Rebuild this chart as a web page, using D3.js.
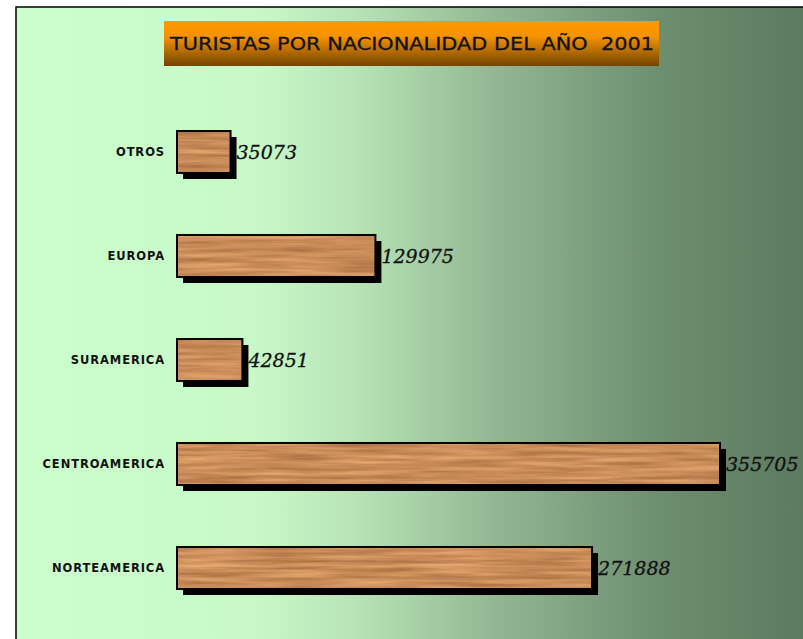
<!DOCTYPE html>
<html>
<head>
<meta charset="utf-8">
<script src="https://cdn.jsdelivr.net/npm/d3@7"></script>
<style>
  body { margin: 0; background: #ffffff; }
  svg { display: block; }
</style>
</head>
<body>
<div id="chart"></div>
<script>
// data
var categories = ["OTROS", "EUROPA", "SURAMERICA", "CENTROAMERICA", "NORTEAMERICA"];
var values = [35073, 129975, 42851, 355705, 271888];
var title = "TURISTAS POR NACIONALIDAD DEL AÑO  2001";

const width = 803;
const height = 639;

const svg = d3.select("#chart").append("svg")
    .attr("width", width)
    .attr("height", height);

const defs = svg.append("defs");

// background gradient, light green -> dark green
let bg = defs.append("linearGradient").attr("id", "bg_grad")
    .attr("x1", 0).attr("x2", 1).attr("y1", 0).attr("y2", 0);
[[0, "#ccffcc"], [0.3, "#c8f8c8"], [0.42, "#b8e4b8"], [0.6, "#92b692"], [0.8, "#6e8e70"], [1, "#5b785e"]]
    .forEach(d => bg.append("stop").attr("offset", d[0]).attr("stop-color", d[1]));

// title box gradient, orange -> brown
let tg = defs.append("linearGradient").attr("id", "title_grad")
    .attr("x1", 0).attr("x2", 0).attr("y1", 0).attr("y2", 1);
[[0, "#ff9900"], [0.35, "#f59200"], [1, "#744400"]]
    .forEach(d => tg.append("stop").attr("offset", d[0]).attr("stop-color", d[1]));

// wood grain
let wood = defs.append("filter").attr("id", "wood")
    .attr("x", 0).attr("y", 0).attr("width", 1).attr("height", 1)
    .attr("color-interpolation-filters", "sRGB");
wood.append("feTurbulence")
    .attr("type", "fractalNoise")
    .attr("baseFrequency", "0.012 0.25")
    .attr("numOctaves", 3)
    .attr("seed", 4)
    .attr("result", "noise");
wood.append("feColorMatrix")
    .attr("in", "noise")
    .attr("type", "matrix")
    .attr("values", "0.32 0 0 0 0.63  0.32 0 0 0 0.39  0.26 0 0 0 0.22  0 0 0 0 1")
    .attr("result", "col");
wood.append("feComposite")
    .attr("in", "col").attr("in2", "SourceGraphic").attr("operator", "in");

// plot frame
svg.append("rect")
    .attr("x", 16).attr("y", 7)
    .attr("width", width).attr("height", height)
    .attr("fill", "url(#bg_grad)")
    .attr("stroke", "#000")
    .attr("stroke-width", 1.5);

// title
svg.append("rect")
    .attr("x", 164).attr("y", 21)
    .attr("width", 495).attr("height", 45)
    .attr("fill", "url(#title_grad)");
svg.append("text")
    .attr("x", 170).attr("y", 50)
    .attr("font-family", "'DejaVu Sans'")
    .attr("font-size", 18)
    .attr("fill", "#111")
    .attr("stroke", "#111")
    .attr("stroke-width", 0.3)
    .attr("textLength", 484)
    .attr("lengthAdjust", "spacingAndGlyphs")
    .attr("xml:space", "preserve")
    .text(title);

// scales
const x0 = 177;
let scale_x = d3.scaleLinear().domain([0, 355705]).range([0, 543]);
let scale_y = d3.scaleBand().domain(categories).range([100, 620])
    .paddingInner(0.596).paddingOuter(0.298);

let data = categories.map((c, i) => ({cat: c, val: values[i]}));

let bars = svg.append("g").selectAll("g").data(data).join("g");

// shadow
bars.append("rect")
    .attr("x", x0 + 6)
    .attr("y", d => scale_y(d.cat) + 6)
    .attr("width", d => scale_x(d.val))
    .attr("height", scale_y.bandwidth())
    .attr("fill", "#000");

// wood body
bars.append("rect")
    .attr("x", x0)
    .attr("y", d => scale_y(d.cat))
    .attr("width", d => scale_x(d.val))
    .attr("height", scale_y.bandwidth())
    .attr("fill", "#c98f5e")
    .attr("filter", "url(#wood)");

// outline
bars.append("rect")
    .attr("x", x0)
    .attr("y", d => scale_y(d.cat))
    .attr("width", d => scale_x(d.val))
    .attr("height", scale_y.bandwidth())
    .attr("fill", "none")
    .attr("stroke", "#000")
    .attr("stroke-width", 2);

// category labels
bars.append("text")
    .attr("x", 165)
    .attr("y", d => scale_y(d.cat) + scale_y.bandwidth() / 2 + 4)
    .attr("text-anchor", "end")
    .attr("font-family", "'DejaVu Sans'")
    .attr("font-weight", "bold")
    .attr("font-size", 11.5)
    .attr("letter-spacing", 0.9)
    .attr("fill", "#111")
    .text(d => d.cat);

// value labels
bars.append("text")
    .attr("x", d => x0 + scale_x(d.val) + 6)
    .attr("y", d => scale_y(d.cat) + scale_y.bandwidth() / 2 + 7)
    .attr("font-family", "'DejaVu Serif'")
    .attr("font-style", "italic")
    .attr("font-size", 19)
    .attr("fill", "#111")
    .attr("stroke", "#111")
    .attr("stroke-width", 0.3)
    .text(d => d.val);
</script>
</body>
</html>
